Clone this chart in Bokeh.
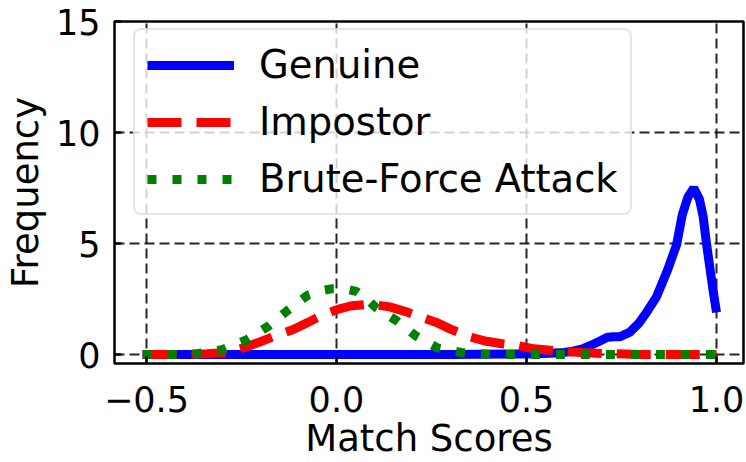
from bokeh.plotting import figure
from bokeh.models import Range1d, FixedTicker, Legend, LegendItem
from bokeh.embed import file_html
from bokeh.resources import INLINE

# ---- data ----
genuine_x = [-0.51, 0.0, 0.3, 0.5, 0.56, 0.6, 0.62, 0.647, 0.67, 0.692, 0.713, 0.73, 0.745,
             0.771, 0.795, 0.816, 0.842, 0.871, 0.895, 0.91, 0.925, 0.94, 0.955, 0.965,
             0.974, 0.99, 1.0]
genuine_y = [0.0, 0.0, 0.01, 0.03, 0.06, 0.1, 0.15, 0.26, 0.42, 0.6, 0.78, 0.8, 0.8,
             1.0, 1.4, 1.9, 2.6, 3.8, 4.95, 6.3, 7.1, 7.5, 7.0, 6.2,
             4.95, 3.0, 1.9]

impostor_x = [-0.51, -0.4, -0.34, -0.3, -0.28, -0.237, -0.2, -0.16, -0.115, -0.075, -0.037,
              0.005, 0.04, 0.075, 0.11, 0.14, 0.18, 0.226, 0.263, 0.3, 0.35, 0.395, 0.44,
              0.48, 0.52, 0.57, 0.62, 0.7, 0.8, 1.0]
impostor_y = [0.0, 0.01, 0.04, 0.09, 0.13, 0.35, 0.58, 0.85, 1.12, 1.45, 1.78,
              2.05, 2.2, 2.25, 2.22, 2.15, 1.95, 1.67, 1.45, 1.15, 0.8, 0.6, 0.48,
              0.4, 0.26, 0.18, 0.12, 0.05, 0.01, 0.0]

brute_x = [-0.51, -0.43, -0.366, -0.3, -0.237, -0.18, -0.13, -0.076, -0.04, -0.01, 0.02,
           0.052, 0.08, 0.105, 0.158, 0.21, 0.266, 0.33, 0.4, 0.5, 1.0]
brute_y = [0.0, 0.0, 0.04, 0.22, 0.66, 1.27, 1.97, 2.67, 2.88, 2.97, 2.97,
           2.85, 2.5, 2.1, 1.53, 0.83, 0.3, 0.09, 0.02, 0.0, 0.0]

series_names = ["Genuine", "Impostor", "Brute-Force Attack"]

xtick_vals = [-0.5, 0.0, 0.5, 1.0]
xtick_labels = ["\u22120.5", "0.0", "0.5", "1.0"]
ytick_vals = [0, 5, 10, 15]
ytick_labels = ["0", "5", "10", "15"]

FONT = "DejaVu Sans"

p = figure(width=746, height=462, output_backend="svg", toolbar_location=None,
           x_range=Range1d(-0.584, 1.071), y_range=Range1d(-0.4, 15))
p.min_border_left = 114
p.min_border_right = 3
p.min_border_top = 21
p.min_border_bottom = 99
p.background_fill_color = "white"
p.border_fill_color = "white"
p.outline_line_color = "black"
p.outline_line_width = 2.5
p.outline_line_alpha = 1.0

r_gen = p.line(genuine_x, genuine_y, line_color="blue", line_width=9)
r_imp = p.line(impostor_x, impostor_y, line_color="red", line_width=9, line_dash="34 15")
r_bru = p.line(brute_x, brute_y, line_color="green", line_width=9, line_dash="9 16")

p.xaxis.ticker = FixedTicker(ticks=xtick_vals)
p.yaxis.ticker = FixedTicker(ticks=ytick_vals)
p.xaxis.major_label_overrides = dict(zip(xtick_vals, xtick_labels))
p.yaxis.major_label_overrides = dict(zip(ytick_vals, ytick_labels))

for ax in (p.xaxis, p.yaxis):
    ax.axis_line_color = None
    ax.major_tick_in = 7
    ax.major_tick_out = 0
    ax.major_tick_line_color = "black"
    ax.major_tick_line_width = 2.5
    ax.minor_tick_line_color = None
    ax.major_label_text_font = FONT
    ax.major_label_text_font_size = "35px"
    ax.major_label_text_color = "black"
    ax.axis_label_text_font = FONT
    ax.axis_label_text_font_size = "37px"
    ax.axis_label_text_font_style = "normal"
    ax.axis_label_text_color = "black"

p.xaxis.axis_label = "Match Scores"
p.yaxis.axis_label = "Frequency"
p.xaxis.major_label_standoff = 22
p.xaxis.axis_label_standoff = 2
p.yaxis.major_label_standoff = 14
p.yaxis.axis_label_standoff = 6

for g in (p.xgrid, p.ygrid):
    g.grid_line_color = "black"
    g.grid_line_alpha = 0.85
    g.grid_line_width = 2
    g.grid_line_dash = "10 5"
p.xgrid.ticker = FixedTicker(ticks=xtick_vals)
p.ygrid.ticker = FixedTicker(ticks=ytick_vals)

legend = Legend(items=[LegendItem(label=series_names[0], renderers=[r_gen]),
                       LegendItem(label=series_names[1], renderers=[r_imp]),
                       LegendItem(label=series_names[2], renderers=[r_bru])],
                location=(19, 148))
legend.label_text_font = FONT
legend.label_text_font_size = "38.5px"
legend.label_text_color = "black"
legend.glyph_width = 87
legend.glyph_height = 40
legend.label_height = 40
legend.label_standoff = 25
legend.spacing = 12
legend.padding = 12
legend.margin = 0
legend.border_line_color = "#cccccc"
legend.border_line_width = 2.5
legend.border_radius = 8
legend.background_fill_color = "white"
legend.background_fill_alpha = 0.8
p.add_layout(legend, "center")

open("out.html", "w").write(file_html(p, INLINE))
